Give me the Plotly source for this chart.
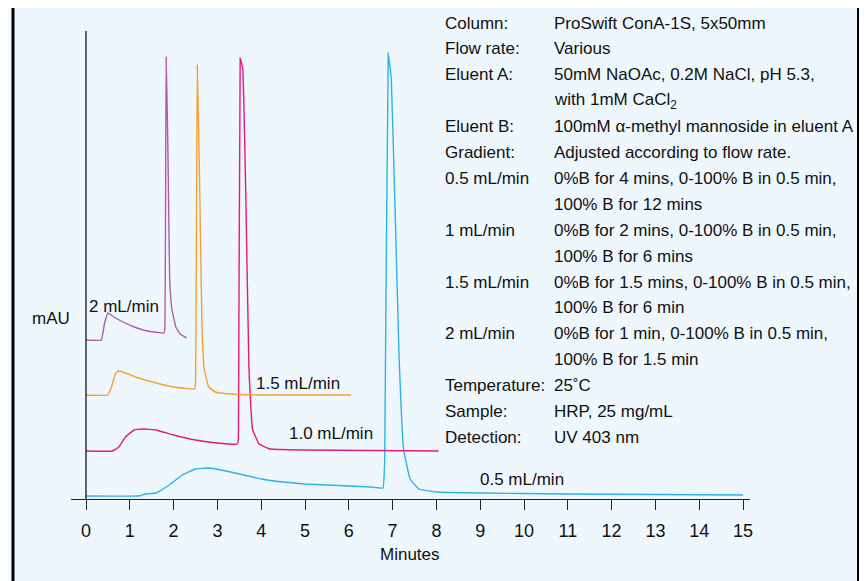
import plotly.graph_objects as go

# x in minutes, y in arbitrary mAU
x05 = [0, 1.2, 1.35, 1.6, 1.9, 2.2, 2.5, 2.8, 3.1, 3.5, 4.0, 4.5, 5.0, 5.5, 6.0, 6.5, 6.78, 6.82, 6.9, 6.97, 7.05, 7.15, 7.25, 7.4, 7.6, 8.0, 9.0, 11.0, 13.0, 15.0]
y05 = [3, 3, 5, 6, 14, 24, 30, 31, 29, 25, 20, 17, 15, 14, 13, 12, 11, 40, 446, 420, 300, 140, 50, 20, 10, 7, 6, 5, 4.5, 4]
x10 = [0, 0.6, 0.75, 0.9, 1.1, 1.3, 1.6, 2.0, 2.5, 3.0, 3.45, 3.48, 3.52, 3.58, 3.65, 3.72, 3.8, 3.95, 4.2, 5.0, 6.5, 8.05]
y10 = [48, 48, 52, 62, 69, 70, 69, 64, 59, 56, 55, 60, 441, 430, 300, 130, 70, 55, 50, 49, 48.5, 48]
x15 = [0, 0.5, 0.58, 0.68, 0.75, 0.9, 1.2, 1.6, 2.0, 2.48, 2.5, 2.54, 2.6, 2.65, 2.7, 2.8, 2.95, 3.3, 4.0, 6.05]
y15 = [104, 104, 112, 126, 128, 126, 121, 116, 112, 110, 115, 434, 300, 170, 130, 112, 107, 105, 104, 104]
x20 = [0, 0.35, 0.42, 0.5, 0.6, 0.8, 1.1, 1.4, 1.78, 1.8, 1.83, 1.87, 1.91, 1.96, 2.05, 2.15, 2.3]
y20 = [159, 159, 175, 186, 183, 178, 172, 168, 166, 170, 442, 350, 220, 190, 172, 165, 161]

ticks = list(range(16))
info_left = ["Column:", "Flow rate:", "Eluent A:", "", "Eluent B:", "Gradient:", "0.5 mL/min", "", "1 mL/min", "",
             "1.5 mL/min", "", "2 mL/min", "", "Temperature:", "Sample:", "Detection:"]
info_right = ["ProSwift ConA-1S, 5x50mm", "Various", "50mM NaOAc, 0.2M NaCl, pH 5.3,", "with 1mM CaCl<sub>2</sub>",
              "100mM α-methyl mannoside in eluent A", "Adjusted according to flow rate.",
              "0%B for 4 mins, 0-100% B in 0.5 min,", "100% B for 12 mins",
              "0%B for 2 mins, 0-100% B in 0.5 min,", "100% B for 6 mins",
              "0%B for 1.5 mins, 0-100% B in 0.5 min,", "100% B for 6 min",
              "0%B for 1 min, 0-100% B in 0.5 min,", "100% B for 1.5 min",
              "25˚C", "HRP, 25 mg/mL", "UV 403 nm"]

PX = 43.8
L, T, W, H = 63, 3, 679, 488
OFF = 8
def sx(px): return (px - OFF - L) / W
def sy(py): return (T + H + 7 - py) / H

fig = go.Figure()
for xs, ys, c in [(x05, y05, "#2bb5e6"), (x10, y10, "#e8197d"), (x15, y15, "#f7a030"), (x20, y20, "#b25ba6")]:
    fig.add_trace(go.Scatter(x=xs, y=ys, mode="lines", line=dict(color=c, width=1.4, shape="spline", smoothing=0.25),
                             hoverinfo="skip", showlegend=False))
fig.add_trace(go.Scatter(x=[0, 0], y=[0, 468], mode="lines", line=dict(color="black", width=1.2), showlegend=False))

font = dict(family="Liberation Sans, Arial", size=17, color="#111")
ann = []
def A(t, px, py, xa="left"):
    ann.append(dict(xref="paper", yref="paper", x=sx(px), y=sy(py), text=t, xanchor=xa, yanchor="middle",
                    showarrow=False, font=font))
for i, (a, b) in enumerate(zip(info_left, info_right)):
    py = 22 + i * 25.9
    if a:
        A(a, 443, py)
    A(b, 552, py)
for t, px, py in [("2 mL/min", 124, 305), ("1.5 mL/min", 298, 382), ("1.0 mL/min", 331, 432), ("0.5 mL/min", 522, 478), ("mAU", 51, 318), ("Minutes", 410, 553)]:
    A(t, px, py, "center")

shapes = [
    dict(type="line", xref="paper", yref="paper", x0=sx(-10), x1=sx(877), y0=sy(3), y1=sy(3), line=dict(color="black", width=3)),
    dict(type="line", xref="paper", yref="paper", x0=sx(13), x1=sx(13), y0=sy(3), y1=sy(600), line=dict(color="black", width=3)),
    dict(type="line", xref="paper", yref="paper", x0=sx(858), x1=sx(858), y0=sy(3), y1=sy(600), line=dict(color="black", width=2)),
]

fig.update_layout(
    width=867, height=581, margin=dict(l=L, r=867 - L - W, t=T, b=581 - T - H),
    paper_bgcolor="#eef7fd", plot_bgcolor="#eef7fd",
    xaxis=dict(range=[-15 / PX, (W - 15) / PX], tickvals=ticks, ticks="outside", ticklen=10, tickcolor="#222",
               showline=True, linecolor="#222", linewidth=1.2, showgrid=False, zeroline=False,
               tickfont=dict(family="Liberation Sans, Arial", size=18, color="#111"), ticklabelstandoff=5),
    yaxis=dict(range=[0, 488], visible=False),
    annotations=ann, shapes=shapes,
)
fig.write_html("out.html")
